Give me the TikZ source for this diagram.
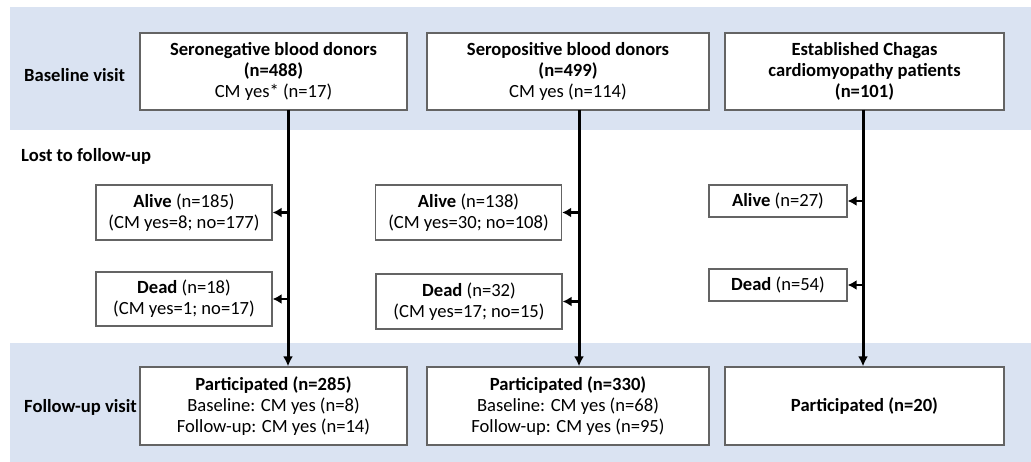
\documentclass[tikz,border=0pt]{standalone}
\usepackage{fontspec}
\setmainfont{Carlito}
\usetikzlibrary{arrows.meta}
\definecolor{band}{RGB}{218,227,242}
\definecolor{boxline}{RGB}{100,100,100}
\tikzset{
  box/.style={draw=boxline, line width=1.3pt, fill=white, align=center, font=\fontsize{18.6}{21}\selectfont, inner sep=0pt},
  lab/.style={anchor=west, font=\fontsize{18.6}{21}\selectfont\bfseries, inner sep=0pt},
  flow/.style={line width=3pt, -{Latex[length=10pt,width=10pt]}},
  side/.style={line width=2.6pt, -{Latex[length=9pt,width=10pt]}}
}
\begin{document}
\begin{tikzpicture}[x=1pt,y=-1pt]
\useasboundingbox (0,0) rectangle (1031,462);
\fill[band] (10,7) rectangle (1031,130);
\fill[band] (10,343) rectangle (1031,462);
% row labels
\node[lab] (l1) at (24,75) {Baseline visit};
\node[lab] (l2) at (21,156) {Lost to follow-up};
\node[lab] (l3) at (24,407) {Follow-up visit};
% baseline boxes
\node[box, minimum width=267pt, minimum height=77pt] (b1) at (273.5,71.5) {\textbf{Seronegative blood donors}\\\textbf{(n=488)}\\CM yes* (n=17)};
\node[box, minimum width=282pt, minimum height=77pt] (b2) at (568,71.5) {\textbf{Seropositive blood donors}\\\textbf{(n=499)}\\CM yes (n=114)};
\node[box, minimum width=279pt, minimum height=77pt] (b3) at (864.5,71.5) {\textbf{Established Chagas}\\\textbf{cardiomyopathy patients}\\\textbf{(n=101)}};
% follow-up boxes
\node[box, minimum width=267pt, minimum height=78pt] (p1) at (273.5,406) {\textbf{Participated (n=285)}\\Baseline: CM yes (n=8)\\Follow-up: CM yes (n=14)};
\node[box, minimum width=282pt, minimum height=78pt] (p2) at (568,406) {\textbf{Participated (n=330)}\\Baseline: CM yes (n=68)\\Follow-up: CM yes (n=95)};
\node[box, minimum width=279pt, minimum height=78pt] (p3) at (864.5,406) {\textbf{Participated (n=20)}};
% lost boxes
\node[box, minimum width=176pt, minimum height=55pt] (a1) at (184,212.5) {\textbf{Alive} (n=185)\\(CM yes=8; no=177)};
\node[box, minimum width=176pt, minimum height=54pt] (d1) at (184,299) {\textbf{Dead} (n=18)\\(CM yes=1; no=17)};
\node[box, minimum width=186pt, minimum height=55pt] (a2) at (468.5,212.5) {\textbf{Alive} (n=138)\\(CM yes=30; no=108)};
\node[box, minimum width=186pt, minimum height=55pt] (d2) at (469,301.5) {\textbf{Dead} (n=32)\\(CM yes=17; no=15)};
\node[box, minimum width=138pt, minimum height=32pt] (a3) at (778,201) {\textbf{Alive} (n=27)};
\node[box, minimum width=138pt, minimum height=32pt] (d3) at (778,285) {\textbf{Dead} (n=54)};
% vertical connectors
\coordinate (v1) at (288,110);
\coordinate (v2) at (579,110);
\coordinate (v3) at (863,110);
\draw[flow] (v1) -- (v1 |- p1.north);
\draw[flow] (v2) -- (v2 |- p2.north);
\draw[flow] (v3) -- (v3 |- p3.north);
% side arrows
\draw[side] (v1 |- a1.east) -- (a1.east);
\draw[side] (v1 |- d1.east) -- (d1.east);
\draw[side] (v2 |- a2.east) -- (a2.east);
\draw[side] (v2 |- d2.east) -- (d2.east);
\draw[side] (v3 |- a3.east) -- (a3.east);
\draw[side] (v3 |- d3.east) -- (d3.east);
\end{tikzpicture}
\end{document}
